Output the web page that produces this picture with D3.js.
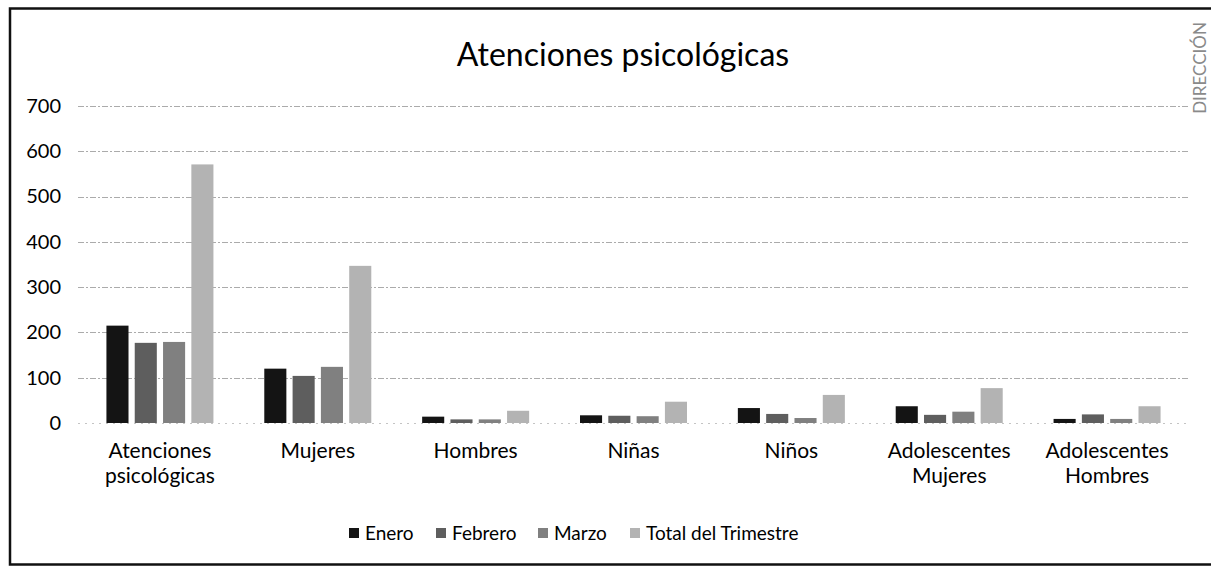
<!DOCTYPE html>
<html>
<head>
<meta charset="utf-8">
<script src="https://cdn.jsdelivr.net/npm/d3@7"></script>
<style>
  html, body { margin: 0; padding: 0; background: #fff; }
  svg { display: block; font-family: Lato, "Open Sans", sans-serif; }
</style>
</head>
<body>
<svg id="chart" width="1211" height="567"></svg>
<script>
// Monthly psychological care counts by population group
const categories = [
  ["Atenciones", "psicológicas"],
  ["Mujeres"],
  ["Hombres"],
  ["Niñas"],
  ["Niños"],
  ["Adolescentes", "Mujeres"],
  ["Adolescentes", "Hombres"]
];
const seriesNames = ["Enero", "Febrero", "Marzo", "Total del Trimestre"];
const enero   = [215, 120, 14, 17, 33, 37, 9];
const febrero = [177, 104, 8, 16, 20, 18, 19];
const marzo   = [179, 124, 8, 15, 11, 25, 9];
const total   = [571, 347, 27, 47, 62, 77, 37];
const yTicks  = [0, 100, 200, 300, 400, 500, 600, 700];

const seriesValues = [enero, febrero, marzo, total];
const colors = ["#141414", "#5e5e5e", "#808080", "#b3b3b3"];

const svg = d3.select("#chart");

// frame
svg.append("rect")
  .attr("x", 10).attr("y", 8.5)
  .attr("width", 1215).attr("height", 556)
  .attr("fill", "none").attr("stroke", "#111").attr("stroke-width", 2.5);

const catKeys = categories.map(c => c.join(" "));
const x0 = d3.scaleBand().domain(catKeys).range([81, 1186]);
const x1 = d3.scaleBand().domain(seriesNames).range([0, 107]).paddingInner(0.22);
const y = d3.scaleLinear().domain([0, 700]).range([423, 106]);

// gridlines
svg.append("g")
  .selectAll("line")
  .data(yTicks)
  .join("line")
  .attr("x1", 78).attr("x2", 1190)
  .attr("y1", d => Math.round(y(d)) + 0.5)
  .attr("y2", d => Math.round(y(d)) + 0.5)
  .attr("stroke", d => d === 0 ? "#c4c4c4" : "#ababab")
  .attr("stroke-width", 1)
  .attr("stroke-dasharray", d => d === 0 ? "2,5" : "6,2,2,2");

// y axis labels
const yAxis = d3.axisLeft(y).tickValues(yTicks).tickSize(0).tickPadding(0);
const gy = svg.append("g").attr("transform", "translate(61,0)").call(yAxis);
gy.select(".domain").remove();
gy.selectAll("text")
  .attr("font-size", 20)
  .attr("fill", "#000")
  .attr("font-family", "Lato, sans-serif");

// bars
const groups = svg.append("g")
  .selectAll("g")
  .data(catKeys)
  .join("g")
  .attr("transform", d => `translate(${x0(d) + (x0.bandwidth() - 107) / 2},0)`);

groups.selectAll("rect")
  .data((d, i) => seriesNames.map((s, j) => ({ s, j, v: seriesValues[j][i] })))
  .join("rect")
  .attr("x", d => x1(d.s))
  .attr("width", x1.bandwidth())
  .attr("y", d => y(d.v))
  .attr("height", d => y(0) - y(d.v))
  .attr("fill", d => colors[d.j]);

// category labels
const xl = svg.append("g");
categories.forEach((lines, i) => {
  const cx = x0(catKeys[i]) + x0.bandwidth() / 2;
  const t = xl.append("text")
    .attr("text-anchor", "middle")
    .attr("font-size", 21)
    .attr("fill", "#000");
  lines.forEach((ln, k) => {
    t.append("tspan").attr("x", cx).attr("y", 458 + k * 25).text(ln);
  });
});

// title
svg.append("text")
  .attr("x", 623).attr("y", 66)
  .attr("text-anchor", "middle")
  .attr("font-size", 32)
  .attr("fill", "#000")
  .text("Atenciones psicológicas");

// legend
const legendX = [349, 436, 538, 630];
const lg = svg.append("g");
seriesNames.forEach((s, j) => {
  lg.append("rect")
    .attr("x", legendX[j]).attr("y", 528)
    .attr("width", 10).attr("height", 10)
    .attr("fill", colors[j]);
  lg.append("text")
    .attr("x", legendX[j] + 16).attr("y", 540)
    .attr("font-size", 19)
    .attr("fill", "#000")
    .text(s);
});

// stamp on the upper right edge
svg.append("text")
  .attr("transform", "translate(1206,68) rotate(-90)")
  .attr("text-anchor", "middle")
  .attr("font-size", 17)
  .attr("fill", "#8a8a8a")
  .text("DIRECCIÓN");
</script>
</body>
</html>
